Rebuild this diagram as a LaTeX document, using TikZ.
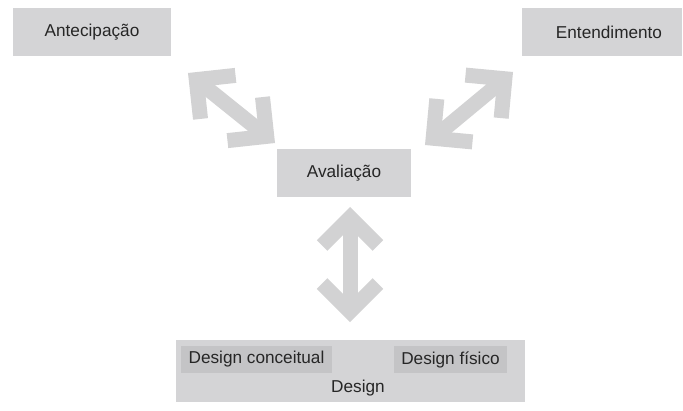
\documentclass[tikz,border=0pt]{standalone}
\usepackage{fontspec}
\setmainfont{Liberation Sans}
\usetikzlibrary{calc}

\definecolor{boxgray}{HTML}{D4D4D6}
\definecolor{innergray}{HTML}{C4C4C6}
\definecolor{arrowgray}{HTML}{D2D2D3}
\definecolor{txtgray}{HTML}{262626}

\tikzset{
  box/.style={fill=boxgray, inner sep=0pt, text=txtgray,
    font=\fontsize{17.2}{20}\selectfont},
  subbox/.style={fill=innergray, inner sep=0pt, text=txtgray,
    font=\fontsize{17.2}{20}\selectfont},
  plain/.style={inner sep=0pt, text=txtgray, font=\fontsize{17.2}{20}\selectfont},
  fat/.style={draw=arrowgray, line width=15pt, line cap=butt, line join=miter},
}

% thick double-headed chevron arrow between two named coordinates
\newcommand\dblarrow[2]{%
  \coordinate (#1-v) at ($(#1)!10.6pt!(#2)$);
  \coordinate (#2-v) at ($(#2)!10.6pt!(#1)$);
  \draw[fat] (#1-v) -- (#2-v);
  \draw[fat] ($(#1-v)!39.5pt!45:(#2)$) -- (#1-v) -- ($(#1-v)!39.5pt!-45:(#2)$);
  \draw[fat] ($(#2-v)!39.5pt!45:(#1)$) -- (#2-v) -- ($(#2-v)!39.5pt!-45:(#1)$);
}

\begin{document}
\begin{tikzpicture}[x=1pt, y=-1pt]
  \useasboundingbox[fill=white] (0,0) rectangle (683,410);

  % boxes
  \node[box, minimum width=158pt, minimum height=48pt] (ante) at (92,32) {Antecipação};
  \node[box, minimum width=160pt, minimum height=48pt] (ent) at (602,32) {\hspace*{14pt}Entendimento};
  \node[box, minimum width=134pt, minimum height=48pt] (aval) at (344,173) {Avaliação};
  \node[box, minimum width=349pt, minimum height=62pt] (design) at (350.5,371) {};
  \node[subbox, minimum width=151pt, minimum height=27pt] (conc) at (256.5,359.5) {Design conceitual};
  \node[subbox, minimum width=113pt, minimum height=27pt] (fis) at (450.5,359.5) {Design físico};
  \node[plain] (dlabel) at (358,388) {Design};

  % arrow end points
  \coordinate (la1) at (188,73);
  \coordinate (la2) at (275,143);
  \coordinate (ra1) at (513,72);
  \coordinate (ra2) at (425,145);
  \coordinate (va1) at (350,207);
  \coordinate (va2) at (350,322);

  \dblarrow{la1}{la2}
  \dblarrow{ra1}{ra2}
  \dblarrow{va1}{va2}
\end{tikzpicture}
\end{document}
